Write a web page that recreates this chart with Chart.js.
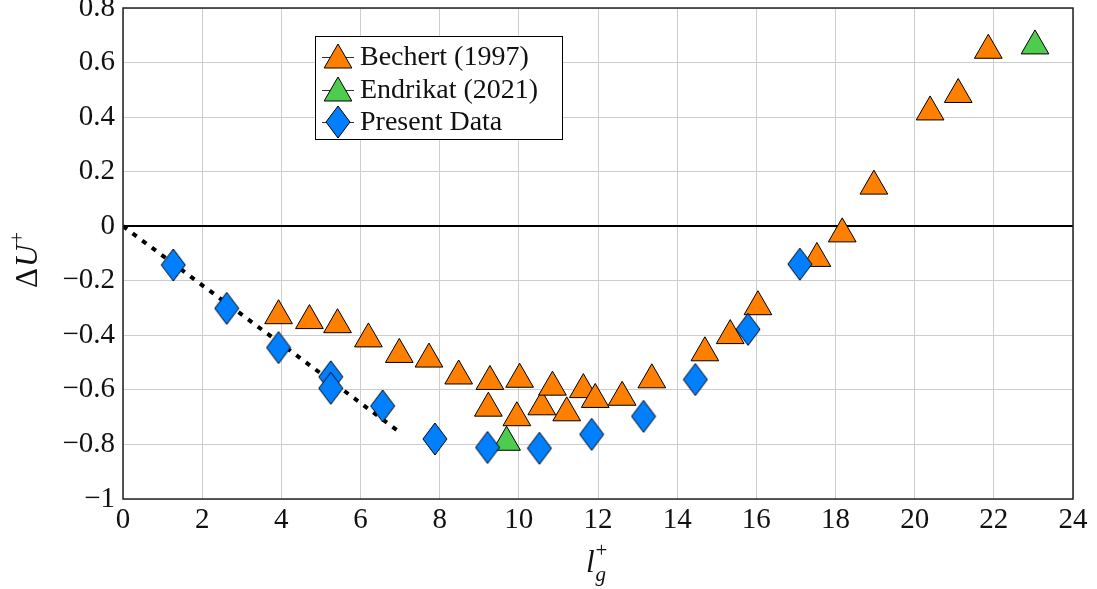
<!DOCTYPE html>
<html>
<head>
<meta charset="utf-8">
<script src="https://cdn.jsdelivr.net/npm/chart.js@4.4.1/dist/chart.umd.min.js"></script>
<style>
  body { margin: 0; background: #fff; }
  #wrap { width: 1097px; height: 589px; }
</style>
</head>
<body>
<div id="wrap"><canvas id="chart" width="1097" height="589"></canvas></div>
<script>
// values
const bechertX = [3.93, 4.71, 5.42, 6.20, 6.98, 7.73, 8.48, 9.27, 9.23, 10.02, 9.95, 10.58, 10.85, 11.21,
                  11.63, 11.93, 12.61, 13.36, 14.70, 15.34, 16.04, 17.53, 18.17, 18.97, 20.39, 21.10, 21.86];
const bechertY = [-0.328, -0.346, -0.361, -0.413, -0.470, -0.487, -0.549, -0.569, -0.667, -0.561, -0.702, -0.662, -0.590, -0.684,
                  -0.599, -0.635, -0.627, -0.563, -0.464, -0.401, -0.295, -0.118, -0.028, 0.147, 0.419, 0.483, 0.645];
const endrikatX = [9.69, 23.04];
const endrikatY = [-0.792, 0.661];
const presentX = [1.27, 2.62, 3.93, 5.25, 5.25, 6.56, 7.88, 9.21, 10.52, 11.84, 13.15, 14.46, 15.79, 17.10];
const presentY = [-0.142, -0.301, -0.445, -0.552, -0.594, -0.659, -0.780, -0.811, -0.814, -0.763, -0.697, -0.562, -0.378, -0.139];
const fitX = [0, 7];
const fitY = [0, -0.756];
const legendNames = ['Bechert (1997)', 'Endrikat (2021)', 'Present Data'];

const ORANGE = 'rgb(255,128,0)';
const GREEN = 'rgb(77,204,77)';
const BLUE = 'rgb(0,128,255)';
const GRID = 'rgb(205,205,205)';
const SERIF = '"Liberation Serif", "DejaVu Serif", serif';

const pts = (xs, ys) => xs.map((x, i) => ({ x: x, y: ys[i] }));

// tall diamond marker (pgfplots style)
function diamondMarker(w, h) {
    const c = document.createElement('canvas');
    c.width = w + 2; c.height = h + 2;
    const g = c.getContext('2d');
    g.beginPath();
    g.moveTo(c.width / 2, 1);
    g.lineTo(c.width - 1, c.height / 2);
    g.lineTo(c.width / 2, c.height - 1);
    g.lineTo(1, c.height / 2);
    g.closePath();
    g.fillStyle = BLUE; g.fill();
    g.strokeStyle = '#000'; g.lineWidth = 1; g.stroke();
    return c;
}
const diamond = diamondMarker(24, 32);

function fmt(v) {
    const r = Math.round(v * 10) / 10;
    if (r === 0) return '0';
    return String(r).replace('-', '\u2212');
}

function drawTri(ctx, x, y, r, fill) {
    ctx.beginPath();
    ctx.moveTo(x, y - r);
    ctx.lineTo(x + 0.866 * r, y + 0.5 * r);
    ctx.lineTo(x - 0.866 * r, y + 0.5 * r);
    ctx.closePath();
    ctx.fillStyle = fill; ctx.fill();
    ctx.strokeStyle = '#000'; ctx.lineWidth = 1; ctx.stroke();
}

const decor = {
    id: 'decor',
    afterDraw(chart) {
        const ctx = chart.ctx;
        const a = chart.chartArea;
        ctx.save();
        // frame
        ctx.strokeStyle = '#222';
        ctx.lineWidth = 1.5;
        ctx.strokeRect(a.left, a.top, a.right - a.left, a.bottom - a.top);

        // legend
        const lx = 315.5, ly = 36.5, lw = 247, lh = 103;
        ctx.fillStyle = '#fff';
        ctx.fillRect(lx, ly, lw, lh);
        ctx.strokeStyle = '#000'; ctx.lineWidth = 1;
        ctx.strokeRect(lx, ly, lw, lh);
        const rows = [57, 90, 122];
        rows.forEach((ry, i) => {
            ctx.strokeStyle = '#333'; ctx.lineWidth = 1;
            ctx.beginPath(); ctx.moveTo(322, ry + 0.5); ctx.lineTo(354, ry + 0.5); ctx.stroke();
            if (i === 0) drawTri(ctx, 338, ry + 3, 16, ORANGE);
            else if (i === 1) drawTri(ctx, 338, ry + 3, 16, GREEN);
            else ctx.drawImage(diamond, 338 - diamond.width / 2, ry - diamond.height / 2);
            ctx.fillStyle = '#111';
            ctx.font = '28px ' + SERIF;
            ctx.textBaseline = 'middle';
            ctx.textAlign = 'left';
            ctx.fillText(legendNames[i], 360, ry + 1);
        });

        // y title: ΔU+
        ctx.save();
        ctx.translate(37, 288);
        ctx.rotate(-Math.PI / 2);
        ctx.fillStyle = '#111';
        ctx.textBaseline = 'alphabetic';
        ctx.textAlign = 'left';
        ctx.font = '31px ' + SERIF;
        ctx.fillText('\u0394', 0, 0);
        let off = ctx.measureText('\u0394').width + 1;
        ctx.font = 'italic 31px ' + SERIF;
        ctx.fillText('U', off, 0);
        off += ctx.measureText('U').width + 1;
        ctx.font = '21px ' + SERIF;
        ctx.fillText('+', off, -13);
        ctx.restore();

        // x title: l_g^+
        ctx.fillStyle = '#111';
        ctx.textBaseline = 'alphabetic';
        ctx.textAlign = 'left';
        ctx.font = 'italic 31px ' + SERIF;
        ctx.fillText('l', 586, 572);
        const lwid = ctx.measureText('l').width;
        ctx.font = '21px ' + SERIF;
        ctx.fillText('+', 586 + lwid + 1, 557);
        ctx.font = 'italic 21px ' + SERIF;
        ctx.fillText('g', 586 + lwid + 1, 581);
        ctx.restore();
    }
};

const ctx = document.getElementById('chart').getContext('2d');
new Chart(ctx, {
    type: 'scatter',
    data: {
        datasets: [
            {
                label: 'fit',
                type: 'line',
                data: pts(fitX, fitY),
                borderColor: '#000',
                borderWidth: 4,
                borderDash: [5, 7],
                pointRadius: 0,
                fill: false,
                order: 4
            },
            {
                label: legendNames[0],
                data: pts(bechertX, bechertY),
                pointStyle: 'triangle',
                pointRadius: 16,
                backgroundColor: ORANGE,
                borderColor: '#000',
                borderWidth: 1,
                order: 3
            },
            {
                label: legendNames[1],
                data: pts(endrikatX, endrikatY),
                pointStyle: 'triangle',
                pointRadius: 16,
                backgroundColor: GREEN,
                borderColor: '#000',
                borderWidth: 1,
                order: 2
            },
            {
                label: legendNames[2],
                data: pts(presentX, presentY),
                pointStyle: diamond,
                pointRadius: 14,
                backgroundColor: BLUE,
                borderColor: '#000',
                borderWidth: 1,
                order: 1
            }
        ]
    },
    options: {
        responsive: false,
        animation: false,
        layout: { autoPadding: false, padding: { top: 8, right: 24, left: 0, bottom: 0 } },
        plugins: { legend: { display: false }, tooltip: { enabled: false } },
        scales: {
            x: {
                type: 'linear',
                min: 0, max: 24,
                ticks: { stepSize: 2, autoSkip: false, maxRotation: 0, padding: 4,
                         color: '#111', font: { family: SERIF, size: 29 } },
                grid: { color: GRID, drawTicks: false },
                border: { display: false },
                afterFit(s) { s.height = 90; s.paddingLeft = 0; s.paddingRight = 0; }
            },
            y: {
                min: -1, max: 0.8,
                ticks: { stepSize: 0.2, padding: 8, callback: v => fmt(v),
                         color: '#111', font: { family: SERIF, size: 29 } },
                grid: {
                    drawTicks: false,
                    color: c => Math.abs(c.tick.value) < 1e-9 ? '#000' : GRID,
                    lineWidth: c => Math.abs(c.tick.value) < 1e-9 ? 2 : 1
                },
                border: { display: false },
                afterFit(s) { s.width = 123; s.paddingTop = 0; s.paddingBottom = 0; }
            }
        }
    },
    plugins: [decor]
});
</script>
</body>
</html>
